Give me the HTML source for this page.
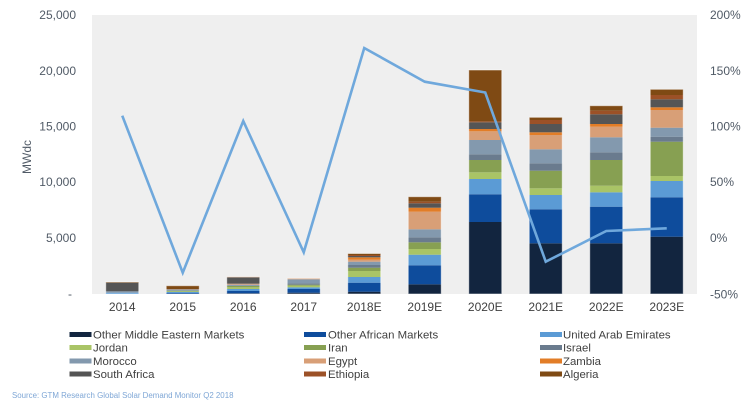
<!DOCTYPE html>
<html><head><meta charset="utf-8"><style>
html,body{margin:0;padding:0;background:#fff;}
svg{display:block;font-family:"Liberation Sans",sans-serif;}
</style></head><body>
<svg width="750" height="409" viewBox="0 0 750 409" xmlns="http://www.w3.org/2000/svg">
<rect x="92" y="15" width="605" height="279" fill="#efefef"/>
<g>
<!-- 2014 -->
<rect x="105.75" y="292.7" width="33" height="1.3" fill="#5b9bd5"/>
<rect x="105.75" y="291.3" width="33" height="1.4" fill="#8399ae"/>
<rect x="105.75" y="282.7" width="33" height="8.6" fill="#555555"/>
<rect x="105.75" y="282" width="33" height="0.7" fill="#7f4a14"/>
<!-- 2015 -->
<rect x="166.25" y="293" width="33" height="1" fill="#0e4c9c"/>
<rect x="166.25" y="292" width="33" height="1" fill="#5b9bd5"/>
<rect x="166.25" y="291.3" width="33" height="0.7" fill="#a9c466"/>
<rect x="166.25" y="290.7" width="33" height="0.6" fill="#87a052"/>
<rect x="166.25" y="289.7" width="33" height="1" fill="#8399ae"/>
<rect x="166.25" y="289.3" width="33" height="0.4" fill="#d89f77"/>
<rect x="166.25" y="289" width="33" height="0.3" fill="#555555"/>
<rect x="166.25" y="285.7" width="33" height="3.3" fill="#7f4a14"/>
<!-- 2016 -->
<rect x="226.75" y="293.3" width="33" height="0.7" fill="#12253f"/>
<rect x="226.75" y="291" width="33" height="2.3" fill="#0e4c9c"/>
<rect x="226.75" y="289" width="33" height="2" fill="#5b9bd5"/>
<rect x="226.75" y="287.3" width="33" height="1.7" fill="#a9c466"/>
<rect x="226.75" y="286" width="33" height="1.3" fill="#87a052"/>
<rect x="226.75" y="285.7" width="33" height="0.3" fill="#6a7b8e"/>
<rect x="226.75" y="284.7" width="33" height="1" fill="#8399ae"/>
<rect x="226.75" y="283.7" width="33" height="1" fill="#d89f77"/>
<rect x="226.75" y="277.3" width="33" height="6.4" fill="#555555"/>
<rect x="226.75" y="276.7" width="33" height="0.6" fill="#d89f77"/>
<!-- 2017 -->
<rect x="287.25" y="292.7" width="33" height="1.3" fill="#12253f"/>
<rect x="287.25" y="289" width="33" height="3.7" fill="#0e4c9c"/>
<rect x="287.25" y="287.3" width="33" height="1.7" fill="#5b9bd5"/>
<rect x="287.25" y="285.7" width="33" height="1.6" fill="#a9c466"/>
<rect x="287.25" y="284.7" width="33" height="1" fill="#87a052"/>
<rect x="287.25" y="283.3" width="33" height="1.4" fill="#6a7b8e"/>
<rect x="287.25" y="279.3" width="33" height="4" fill="#8399ae"/>
<rect x="287.25" y="278.3" width="33" height="1" fill="#d89f77"/>
<!-- 2018E -->
<rect x="347.75" y="291.7" width="33" height="2.3" fill="#12253f"/>
<rect x="347.75" y="282.7" width="33" height="9" fill="#0e4c9c"/>
<rect x="347.75" y="277" width="33" height="5.7" fill="#5b9bd5"/>
<rect x="347.75" y="271" width="33" height="6" fill="#a9c466"/>
<rect x="347.75" y="267.7" width="33" height="3.3" fill="#87a052"/>
<rect x="347.75" y="265" width="33" height="2.7" fill="#6a7b8e"/>
<rect x="347.75" y="261.7" width="33" height="3.3" fill="#8399ae"/>
<rect x="347.75" y="259.7" width="33" height="2" fill="#d89f77"/>
<rect x="347.75" y="257.3" width="33" height="2.4" fill="#e27d27"/>
<rect x="347.75" y="256" width="33" height="1.3" fill="#555555"/>
<rect x="347.75" y="255" width="33" height="1" fill="#9c5127"/>
<rect x="347.75" y="253.5" width="33" height="1.5" fill="#7f4a14"/>
<!-- 2019E -->
<rect x="408.25" y="284.3" width="33" height="9.7" fill="#12253f"/>
<rect x="408.25" y="265.3" width="33" height="19" fill="#0e4c9c"/>
<rect x="408.25" y="254.7" width="33" height="10.6" fill="#5b9bd5"/>
<rect x="408.25" y="249" width="33" height="5.7" fill="#a9c466"/>
<rect x="408.25" y="242.3" width="33" height="6.7" fill="#87a052"/>
<rect x="408.25" y="237.3" width="33" height="5" fill="#6a7b8e"/>
<rect x="408.25" y="229.3" width="33" height="8" fill="#8399ae"/>
<rect x="408.25" y="211.7" width="33" height="17.6" fill="#d89f77"/>
<rect x="408.25" y="207.7" width="33" height="4" fill="#e27d27"/>
<rect x="408.25" y="203.3" width="33" height="4.4" fill="#555555"/>
<rect x="408.25" y="201.7" width="33" height="1.6" fill="#9c5127"/>
<rect x="408.25" y="196.7" width="33" height="5" fill="#7f4a14"/>
<!-- 2020E -->
<rect x="468.75" y="222" width="33" height="72" fill="#12253f"/>
<rect x="468.75" y="194.3" width="33" height="27.7" fill="#0e4c9c"/>
<rect x="468.75" y="179" width="33" height="15.3" fill="#5b9bd5"/>
<rect x="468.75" y="172.3" width="33" height="6.7" fill="#a9c466"/>
<rect x="468.75" y="160" width="33" height="12.3" fill="#87a052"/>
<rect x="468.75" y="154.3" width="33" height="5.7" fill="#6a7b8e"/>
<rect x="468.75" y="140" width="33" height="14.3" fill="#8399ae"/>
<rect x="468.75" y="131.3" width="33" height="8.7" fill="#d89f77"/>
<rect x="468.75" y="129" width="33" height="2.3" fill="#e27d27"/>
<rect x="468.75" y="122.3" width="33" height="6.7" fill="#555555"/>
<rect x="468.75" y="121.3" width="33" height="1" fill="#9c5127"/>
<rect x="468.75" y="70" width="33" height="51.3" fill="#7f4a14"/>
<!-- 2021E -->
<rect x="529.25" y="243.3" width="33" height="50.7" fill="#12253f"/>
<rect x="529.25" y="209.3" width="33" height="34" fill="#0e4c9c"/>
<rect x="529.25" y="195" width="33" height="14.3" fill="#5b9bd5"/>
<rect x="529.25" y="188.3" width="33" height="6.7" fill="#a9c466"/>
<rect x="529.25" y="170.7" width="33" height="17.6" fill="#87a052"/>
<rect x="529.25" y="163.3" width="33" height="7.4" fill="#6a7b8e"/>
<rect x="529.25" y="149.3" width="33" height="14" fill="#8399ae"/>
<rect x="529.25" y="135" width="33" height="14.3" fill="#d89f77"/>
<rect x="529.25" y="132.3" width="33" height="2.7" fill="#e27d27"/>
<rect x="529.25" y="124" width="33" height="8.3" fill="#555555"/>
<rect x="529.25" y="120" width="33" height="4" fill="#9c5127"/>
<rect x="529.25" y="117.3" width="33" height="2.7" fill="#7f4a14"/>
<!-- 2022E -->
<rect x="589.75" y="243.3" width="33" height="50.7" fill="#12253f"/>
<rect x="589.75" y="206.7" width="33" height="36.6" fill="#0e4c9c"/>
<rect x="589.75" y="192.3" width="33" height="14.4" fill="#5b9bd5"/>
<rect x="589.75" y="185.7" width="33" height="6.6" fill="#a9c466"/>
<rect x="589.75" y="160" width="33" height="25.7" fill="#87a052"/>
<rect x="589.75" y="152.3" width="33" height="7.7" fill="#6a7b8e"/>
<rect x="589.75" y="137.3" width="33" height="15" fill="#8399ae"/>
<rect x="589.75" y="126.7" width="33" height="10.6" fill="#d89f77"/>
<rect x="589.75" y="124" width="33" height="2.7" fill="#e27d27"/>
<rect x="589.75" y="114.3" width="33" height="9.7" fill="#555555"/>
<rect x="589.75" y="110.7" width="33" height="3.6" fill="#9c5127"/>
<rect x="589.75" y="105.7" width="33" height="5" fill="#7f4a14"/>
<!-- 2023E -->
<rect x="650.25" y="236.7" width="33" height="57.3" fill="#12253f"/>
<rect x="650.25" y="197.3" width="33" height="39.4" fill="#0e4c9c"/>
<rect x="650.25" y="181" width="33" height="16.3" fill="#5b9bd5"/>
<rect x="650.25" y="176" width="33" height="5" fill="#a9c466"/>
<rect x="650.25" y="141.7" width="33" height="34.3" fill="#87a052"/>
<rect x="650.25" y="136.7" width="33" height="5" fill="#6a7b8e"/>
<rect x="650.25" y="127.7" width="33" height="9" fill="#8399ae"/>
<rect x="650.25" y="110" width="33" height="17.7" fill="#d89f77"/>
<rect x="650.25" y="107.3" width="33" height="2.7" fill="#e27d27"/>
<rect x="650.25" y="99.3" width="33" height="8" fill="#555555"/>
<rect x="650.25" y="95" width="33" height="4.3" fill="#9c5127"/>
<rect x="650.25" y="89.3" width="33" height="5.7" fill="#7f4a14"/>
</g>
<g fill="none" stroke="#ffffff" stroke-opacity="0.5" stroke-width="1">
<rect x="105.75" y="282" width="33" height="12"/>
<rect x="166.25" y="285.7" width="33" height="8.3"/>
<rect x="226.75" y="276.7" width="33" height="17.3"/>
<rect x="287.25" y="278.3" width="33" height="15.7"/>
<rect x="347.75" y="253.5" width="33" height="40.5"/>
<rect x="408.25" y="196.7" width="33" height="97.3"/>
<rect x="468.75" y="70" width="33" height="224"/>
<rect x="529.25" y="117.3" width="33" height="176.7"/>
<rect x="589.75" y="105.7" width="33" height="188.3"/>
<rect x="650.25" y="89.3" width="33" height="204.7"/>
</g>
<polyline fill="none" stroke="#6fa8dc" stroke-width="2.6" stroke-linejoin="miter" points="122.25,115.7 182.75,272.7 243.25,121 303.75,252.3 364.25,48 424.75,81.7 485.25,92.5 545.75,261.7 606.25,231 666.75,228.3"/>
<g font-size="12" fill="#505a66" text-anchor="end">
<text x="76" y="19">25,000</text>
<text x="76" y="75">20,000</text>
<text x="76" y="130.5">15,000</text>
<text x="76" y="186">10,000</text>
<text x="76" y="242">5,000</text>
<text x="72" y="298">-</text>
</g>
<g font-size="12" fill="#505a66" text-anchor="start">
<text x="710" y="19">200%</text>
<text x="710" y="75">150%</text>
<text x="710" y="130.5">100%</text>
<text x="710" y="186">50%</text>
<text x="710" y="242">0%</text>
<text x="710" y="298.5">-50%</text>
</g>
<text transform="translate(31,157) rotate(-90)" font-size="12" fill="#505a66" text-anchor="middle">MWdc</text>
<g font-size="12" fill="#404040" text-anchor="middle">
<text x="122.25" y="311">2014</text>
<text x="182.75" y="311">2015</text>
<text x="243.25" y="311">2016</text>
<text x="303.75" y="311">2017</text>
<text x="364.25" y="311">2018E</text>
<text x="424.75" y="311">2019E</text>
<text x="485.25" y="311">2020E</text>
<text x="545.75" y="311">2021E</text>
<text x="606.25" y="311">2022E</text>
<text x="666.75" y="311">2023E</text>
</g>
<g font-size="11.4" fill="#404040">
<rect x="69.5" y="332" width="22" height="5" fill="#12253f"/><text x="93" y="338.5">Other Middle Eastern Markets</text>
<rect x="304" y="332" width="22" height="5" fill="#0e4c9c"/><text x="328" y="338.5">Other African Markets</text>
<rect x="540" y="332" width="22" height="5" fill="#5b9bd5"/><text x="563" y="338.5">United Arab Emirates</text>
<rect x="69.5" y="345" width="22" height="5" fill="#a9c466"/><text x="93" y="351.5">Jordan</text>
<rect x="304" y="345" width="22" height="5" fill="#87a052"/><text x="328" y="351.5">Iran</text>
<rect x="540" y="345" width="22" height="5" fill="#6a7b8e"/><text x="563" y="351.5">Israel</text>
<rect x="69.5" y="358.5" width="22" height="5" fill="#8399ae"/><text x="93" y="365">Morocco</text>
<rect x="304" y="358.5" width="22" height="5" fill="#d89f77"/><text x="328" y="365">Egypt</text>
<rect x="540" y="358.5" width="22" height="5" fill="#e27d27"/><text x="563" y="365">Zambia</text>
<rect x="69.5" y="371.5" width="22" height="5" fill="#555555"/><text x="93" y="378">South Africa</text>
<rect x="304" y="371.5" width="22" height="5" fill="#9c5127"/><text x="328" y="378">Ethiopia</text>
<rect x="540" y="371.5" width="22" height="5" fill="#7f4a14"/><text x="563" y="378">Algeria</text>
</g>
<text x="12" y="398" font-size="7.9" fill="#7fa7d6">Source: GTM Research Global Solar Demand Monitor Q2 2018</text>
</svg>
</body></html>
